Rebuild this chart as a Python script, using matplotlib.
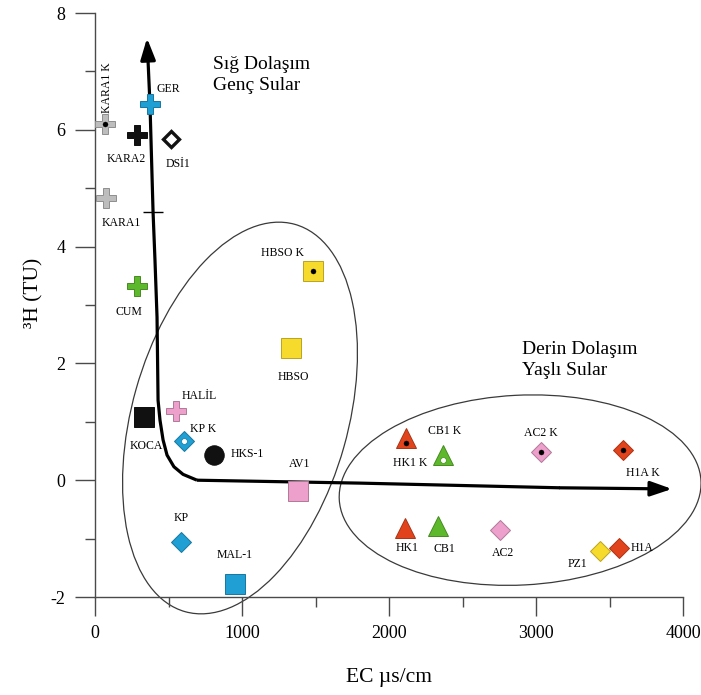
import matplotlib
matplotlib.use("Agg")
import matplotlib.pyplot as plt
from matplotlib.patches import Ellipse
from matplotlib.ticker import MultipleLocator

plt.rcParams['font.family'] = ['Liberation Serif', 'DejaVu Serif']
plt.rcParams['axes.unicode_minus'] = False

# Sample names, electrical conductivity (µS/cm) and tritium (TU)
names = ["KARA1 K", "GER", "KARA2", "DSİ1", "KARA1", "CUM",
         "HBSO K", "HBSO", "HALİL", "KOCA", "KP K", "HKS-1", "AV1", "KP", "MAL-1",
         "HK1 K", "CB1 K", "AC2 K", "H1A K", "HK1", "CB1", "AC2", "PZ1", "H1A"]
ec = [68, 374, 286, 517, 75, 286,
      1483, 1333, 551, 333, 605, 810, 1381, 585, 952,
      2116, 2367, 3034, 3592, 2109, 2333, 2755, 3435, 3565]
tritium = [6.10, 6.44, 5.91, 5.84, 4.83, 3.33,
           3.58, 2.26, 1.18, 1.08, 0.67, 0.43, -0.19, -1.06, -1.78,
           0.72, 0.43, 0.48, 0.52, -0.82, -0.78, -0.85, -1.21, -1.16]

# Trend arrows: shallow/young branch and deep/old branch
vert_ec = [694, 599, 537, 490, 463, 442, 429, 422, 408, 395, 374, 354]
vert_h3 = [0.0, 0.10, 0.23, 0.43, 0.69, 1.03, 1.37, 2.79, 3.77, 4.59, 6.44, 7.57]
horiz_ec = [694, 1803, 3163, 3925]
horiz_h3 = [0.0, -0.05, -0.13, -0.15]
tick_mark = (395, 4.59)

x_ticks = [0, 1000, 2000, 3000, 4000]
y_ticks = [-2, 0, 2, 4, 6, 8]

GREY, BLUE, GREEN = '#bdbdbd', '#1f9fd3', '#5db82b'
YELLOW, PINK, RED, BLACK = '#f6da2c', '#eca0cb', '#e1441c', '#111111'

def darker(c, f=0.75):
    r, g, b = matplotlib.colors.to_rgb(c)
    return (r * f, g * f, b * f)

# marker, colour, centre dot colour
style = {
    "KARA1 K": ('P', GREY, 'k'), "GER": ('P', BLUE, None), "KARA2": ('P', BLACK, None),
    "DSİ1": ('open', BLACK, None), "KARA1": ('P', GREY, None), "CUM": ('P', GREEN, None),
    "HBSO K": ('s', YELLOW, 'k'), "HBSO": ('s', YELLOW, None), "HALİL": ('P', PINK, None),
    "KOCA": ('s', BLACK, None), "KP K": ('D', BLUE, 'w'), "HKS-1": ('o', BLACK, None),
    "AV1": ('s', PINK, None), "KP": ('D', BLUE, None), "MAL-1": ('s', BLUE, None),
    "HK1 K": ('^', RED, 'k'), "CB1 K": ('^', GREEN, 'w'), "AC2 K": ('D', PINK, 'k'),
    "H1A K": ('D', RED, 'k'), "HK1": ('^', RED, None), "CB1": ('^', GREEN, None),
    "AC2": ('D', PINK, None), "PZ1": ('D', YELLOW, None), "H1A": ('D', RED, None),
}
sizes = {'P': 15, 's': 14, 'o': 14, 'D': 10.5, '^': 14, 'open': 8.5}

# label offsets in points (dx, dy)
label_off = {
    "KARA1 K": (1.5, 26), "GER": (13, 11), "KARA2": (-8, -17), "DSİ1": (5, -18),
    "KARA1": (11, -18), "CUM": (-6, -19), "HBSO K": (-22, 13), "HBSO": (2, -21),
    "HALİL": (17, 11), "KOCA": (1.5, -21), "KP K": (14, 9), "HKS-1": (24, 0.5),
    "AV1": (1, 19.5), "KP": (0, 17), "MAL-1": (0, 21), "HK1 K": (3, -18),
    "CB1 K": (1, 17), "AC2 K": (0, 14), "H1A K": (14, -17), "HK1": (1.5, -14),
    "CB1": (4.5, -17), "AC2": (2, -17), "PZ1": (-16, -9.5), "H1A": (16.5, 0),
}

fig = plt.figure(figsize=(7.01, 6.95), dpi=100)
ax = fig.add_axes([95 / 701, 1 - 597 / 695, 588 / 701, 584 / 695])
ax.set_xlim(0, 4000)
ax.set_ylim(-2, 8)

for sp in ['top', 'right']:
    ax.spines[sp].set_visible(False)
for sp in ['left', 'bottom']:
    ax.spines[sp].set_color('#4a4a4a')
    ax.spines[sp].set_linewidth(1.0)

ax.set_xticks(x_ticks)
ax.set_yticks(y_ticks)
ax.xaxis.set_minor_locator(MultipleLocator(500))
ax.yaxis.set_minor_locator(MultipleLocator(1))
ax.tick_params(which='major', direction='out', length=13.5, width=1.0, color='#4a4a4a',
               labelsize=13, pad=7)
ax.tick_params(which='minor', direction='out', length=7, width=1.0, color='#4a4a4a')
ax.tick_params(axis='y', which='major', length=14.5)

ax.set_xlabel('EC µs/cm', fontsize=15.5)
ax.xaxis.set_label_coords(0.5, -0.122)
ax.set_ylabel('³H (TU)', fontsize=15.5)
ax.yaxis.set_label_coords(-0.088, 0.52)

# grouping ellipses
ax.add_patch(Ellipse((0.2466, 0.3065), 0.689, 0.367, angle=74.3, transform=ax.transAxes,
                     fill=False, ec='#3a3a3a', lw=0.9, clip_on=False))
ax.add_patch(Ellipse((0.723, 0.183), 0.616, 0.325, angle=3, transform=ax.transAxes,
                     fill=False, ec='#3a3a3a', lw=0.9, clip_on=False))

# trend arrows
ax.plot(vert_ec[:-1], vert_h3[:-1], color='black', lw=2.3, solid_capstyle='butt',
        solid_joinstyle='round', zorder=3)
ax.annotate('', xy=(vert_ec[-1], vert_h3[-1]), xytext=(vert_ec[-2], vert_h3[-2]),
            arrowprops=dict(arrowstyle='-|>,head_length=1.3,head_width=0.45', lw=2.3,
                            color='black', shrinkA=0, shrinkB=0), zorder=3)
ax.plot(horiz_ec[:-1], horiz_h3[:-1], color='black', lw=2.3, solid_capstyle='butt', zorder=3)
ax.annotate('', xy=(horiz_ec[-1], horiz_h3[-1]), xytext=(horiz_ec[-2], horiz_h3[-2]),
            arrowprops=dict(arrowstyle='-|>,head_length=1.3,head_width=0.45', lw=2.3,
                            color='black', shrinkA=0, shrinkB=0), zorder=3)
ax.plot([tick_mark[0]], [tick_mark[1]], marker='_', ms=14, mew=1.0, color='black', zorder=3)

# samples
for n, x, y in zip(names, ec, tritium):
    mk, col, dot = style[n]
    if mk == 'open':
        ax.plot(x, y, marker='D', ms=sizes[mk], mfc='white', mec=col, mew=2.4, zorder=5)
    else:
        ax.plot(x, y, marker=mk, ms=sizes[mk], mfc=col, mec=darker(col), mew=0.7, zorder=5)
    if dot is not None:
        dy = -0.08 if mk == '^' else 0
        if dot == 'k':
            ax.plot(x, y + dy, marker='o', ms=3.6, mfc='black', mec='black', mew=0.3, zorder=6)
        else:
            ax.plot(x, y + dy, marker='o', ms=4.2, mfc='white', mec=darker(col), mew=0.5, zorder=6)
    dx, dyo = label_off[n]
    ax.annotate(n, (x, y), xytext=(dx, dyo), textcoords='offset points', ha='center',
                va='center', fontsize=8.5, rotation=90 if n == "KARA1 K" else 0, zorder=7)

# region captions
ax.text(0.2007, 0.926, 'Sığ Dolaşım\nGenç Sular', transform=ax.transAxes, fontsize=14,
        ha='left', va='top', linespacing=1.28)
ax.text(0.727, 0.438, 'Derin Dolaşım\nYaşlı Sular', transform=ax.transAxes, fontsize=14,
        ha='left', va='top', linespacing=1.28)

fig.savefig('out.png', dpi=100, facecolor='white')
